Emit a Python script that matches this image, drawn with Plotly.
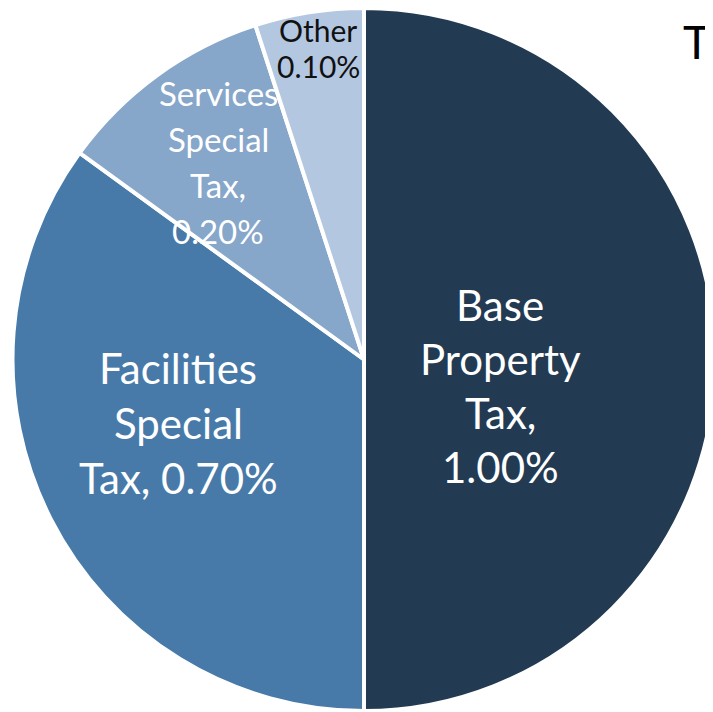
import plotly.graph_objects as go

labels = ["Base Property Tax", "Facilities Special Tax", "Services Special Tax", "Other"]
values = [1.00, 0.70, 0.20, 0.10]
# label text lines (the value is appended to the last line)
label_lines = [["Base", "Property", "Tax,", ""], ["Facilities", "Special", "Tax, "], ["Services", "Special", "Tax,", ""], ["Other", ""]]
colors = ["#233A53", "#477AA8", "#86A6CA", "#B4C7E1"]
text_colors = ["white", "white", "white", "#111111"]
font_sizes = [42, 42, 33, 30]
line_gap = [54, 55, 46, 35]
# label block centers in page pixels (x, y from top)
label_pos = [(500, 386), (178, 423), (218, 162), (318, 48)]

OFF = 8  # page body margin
W, H = 712, 703

fig = go.Figure()
fig.add_trace(go.Pie(
    labels=labels, values=values, sort=False, direction="clockwise", rotation=0,
    marker=dict(colors=colors, line=dict(color="white", width=4)),
    textinfo="none", hoverinfo="label+value", showlegend=False,
    domain=dict(x=[0, 1], y=[0, 1]),
))

for i, v in enumerate(values):
    lines = list(label_lines[i])
    lines[-1] = lines[-1] + f"{v:.2f}%"
    n = len(lines)
    cx, cy = label_pos[i]
    for k, line in enumerate(lines):
        ly = cy + (k - (n - 1) / 2) * line_gap[i]
        fig.add_annotation(
            x=(cx - OFF) / W, y=1 - (ly - OFF) / H, xref="paper", yref="paper",
            text=line, showarrow=False, xanchor="center", yanchor="middle",
            font=dict(family="Lato", size=font_sizes[i], color=text_colors[i]),
        )

fig.add_annotation(x=(681 - OFF) / W, y=1 - (42 - OFF) / H, xref="paper", yref="paper",
                   text="T", showarrow=False, xanchor="left", yanchor="middle",
                   font=dict(family="Lato", size=46, color="black"))

fig.update_layout(width=W, height=H, margin=dict(l=0, r=0, t=0, b=0),
                  paper_bgcolor="white", plot_bgcolor="white")
fig.write_html("out.html")
